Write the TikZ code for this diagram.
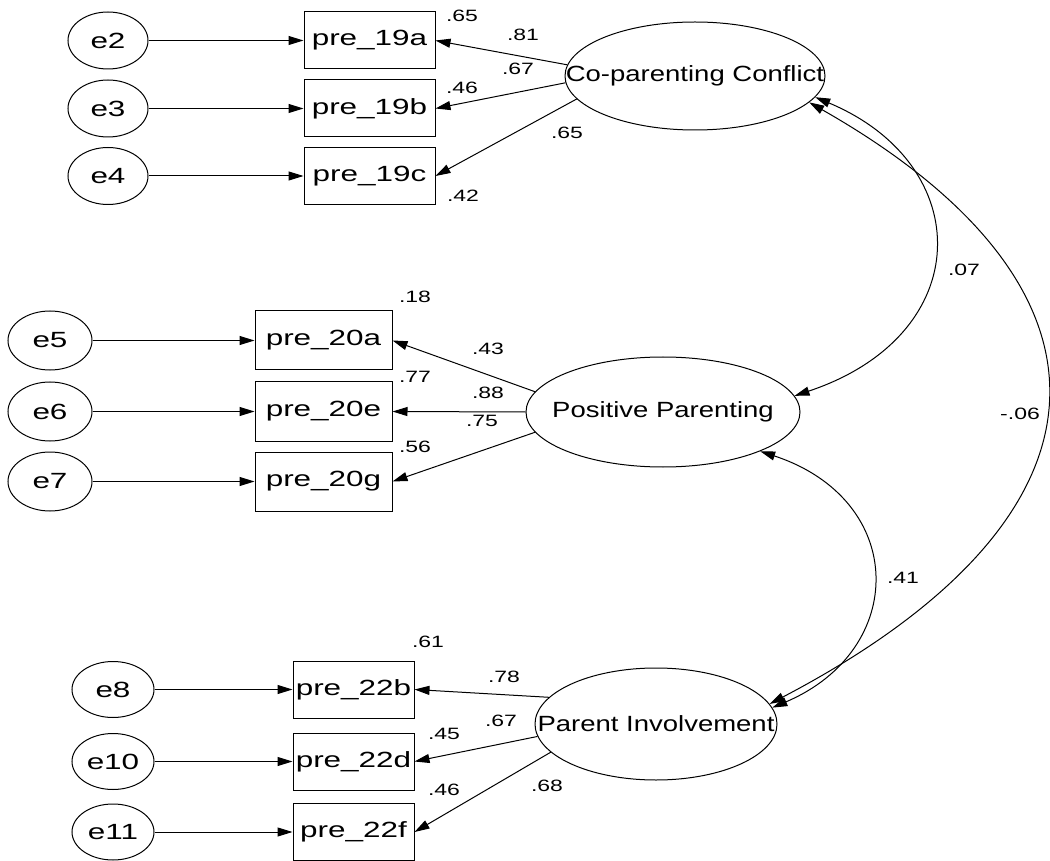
\documentclass[tikz,border=0pt]{standalone}
\usepackage{fontspec}
\setmainfont{Liberation Sans}
\newfontfamily\fa[FakeStretch=1.43]{Liberation Sans}
\newfontfamily\fb[FakeStretch=1.25]{Liberation Sans}
\newfontfamily\fc[FakeStretch=1.4]{Liberation Sans}
\usetikzlibrary{arrows.meta,shapes.geometric}
\begin{document}
\begin{tikzpicture}[x=0.5pt,y=-0.5pt,
  err/.style={ellipse,draw,line width=0.5pt,inner sep=0pt,font=\fa\fontsize{11}{13}\selectfont},
  ind/.style={rectangle,draw,line width=0.5pt,inner sep=0pt,font=\fa\fontsize{11}{13}\selectfont},
  lat/.style={ellipse,draw,line width=0.5pt,inner sep=0pt},
  lattext/.style={font=\fb\fontsize{11}{13}\selectfont,inner sep=0pt},
  num/.style={font=\fc\fontsize{8.2}{10}\selectfont,inner sep=0pt},
  reg/.style={line width=0.5pt,-{Triangle[length=7.5pt,width=4.5pt]}},
  cov/.style={line width=0.5pt,{Triangle[length=7.5pt,width=4.5pt]}-{Triangle[length=7.5pt,width=4.5pt]}}
]
\useasboundingbox (0,0) rectangle (1050,861);

% ---------- top group ----------
\node[err,minimum width=40pt,minimum height=28.5pt] (e2) at (108,40.5) {e2};
\node[err,minimum width=40pt,minimum height=28.5pt] (e3) at (108,108.5) {e3};
\node[err,minimum width=40pt,minimum height=28.5pt] (e4) at (108,176) {e4};
\node[ind,minimum width=65.5pt,minimum height=28.5pt] (b19a) at (369.5,40.5) {pre\_19a};
\node[ind,minimum width=65.5pt,minimum height=28.5pt] (b19b) at (369.5,108.5) {pre\_19b};
\node[ind,minimum width=65.5pt,minimum height=28.5pt] (b19c) at (369.5,176) {pre\_19c};
\node[lat,minimum width=130pt,minimum height=54pt] (cc) at (695,76) {};
\node[lattext] (tcc) at (cc.center) {Co-parenting Conflict};

% ---------- middle group ----------
\node[err,minimum width=42pt,minimum height=29.5pt] (e5) at (50,340.5) {e5};
\node[err,minimum width=42pt,minimum height=29.5pt] (e6) at (50,411.5) {e6};
\node[err,minimum width=42pt,minimum height=29.5pt] (e7) at (50,481.5) {e7};
\node[ind,minimum width=68.5pt,minimum height=29.5pt] (b20a) at (323.5,340.5) {pre\_20a};
\node[ind,minimum width=68.5pt,minimum height=29.5pt] (b20e) at (323.5,411.5) {pre\_20e};
\node[ind,minimum width=68.5pt,minimum height=29.5pt] (b20g) at (323.5,481.5) {pre\_20g};
\node[lat,minimum width=137pt,minimum height=55pt] (pp) at (663,412) {};
\node[lattext] (tpp) at (pp.center) {Positive Parenting};

% ---------- bottom group ----------
\node[err,minimum width=41pt,minimum height=28pt] (e8) at (113,689.5) {e8};
\node[err,minimum width=41pt,minimum height=28pt] (e10) at (113,761.5) {e10};
\node[err,minimum width=41pt,minimum height=28pt] (e11) at (113,832) {e11};
\node[ind,minimum width=60.5pt,minimum height=28.5pt] (b22b) at (353.5,689.5) {pre\_22b};
\node[ind,minimum width=60.5pt,minimum height=28.5pt] (b22d) at (353.5,761.5) {pre\_22d};
\node[ind,minimum width=60.5pt,minimum height=28.5pt] (b22f) at (353.5,832) {pre\_22f};
\node[lat,minimum width=121pt,minimum height=56pt] (pi) at (656,724) {};
\node[lattext] (tpi) at (pi.center) {Parent Involvement};

% ---------- error paths ----------
\draw[reg] (e2) -- (b19a);
\draw[reg] (e3) -- (b19b);
\draw[reg] (e4) -- (b19c);
\draw[reg] (e5) -- (b20a);
\draw[reg] (e6) -- (b20e);
\draw[reg] (e7) -- (b20g);
\draw[reg] (e8) -- (b22b);
\draw[reg] (e10) -- (b22d);
\draw[reg] (e11) -- (b22f);

% ---------- loadings ----------
\draw[reg] (cc.175) -- (b19a.east);
\draw[reg] (cc.183) -- (b19b.east);
\draw[reg] (cc.191) -- (b19c.east);
\draw[reg] (pp.171) -- (b20a.east);
\draw[reg] (pp.180) -- (b20e.east);
\draw[reg] (pp.189) -- (b20g.east);
\draw[reg] (pi.166) -- (b22b.east);
\draw[reg] (pi.186) -- (b22d.east);
\draw[reg] (pi.195) -- (b22f.east);

% ---------- covariances ----------
\draw[cov] (cc.350) .. controls (977,165) and (977,335) .. (pp.7);
\draw[cov] (pp.338) .. controls (908,500) and (908,650) .. (pi.8);
\draw[cov] (cc.347) .. controls (1132,286) and (1132,514) .. (pi.10);

% ---------- numbers ----------
\node[num] (n1) at (462,16) {.65};
\node[num] (n2) at (523,35) {.81};
\node[num] (n3) at (518,69) {.67};
\node[num] (n4) at (462,88) {.46};
\node[num] (n5) at (567,133) {.65};
\node[num] (n6) at (463,196) {.42};
\node[num] (n7) at (415,297) {.18};
\node[num] (n8) at (488,349) {.43};
\node[num] (n9) at (415,377) {.77};
\node[num] (n10) at (488,393) {.88};
\node[num] (n11) at (482,421) {.75};
\node[num] (n12) at (415,447) {.56};
\node[num] (n13) at (428,642) {.61};
\node[num] (n14) at (504,677) {.78};
\node[num] (n15) at (501,721) {.67};
\node[num] (n16) at (444,734) {.45};
\node[num] (n17) at (444,790) {.46};
\node[num] (n18) at (547,786) {.68};
\node[num] (n19) at (964,270) {.07};
\node[num] (n20) at (1020,414) {-.06};
\node[num] (n21) at (903,578) {.41};
\end{tikzpicture}
\end{document}
